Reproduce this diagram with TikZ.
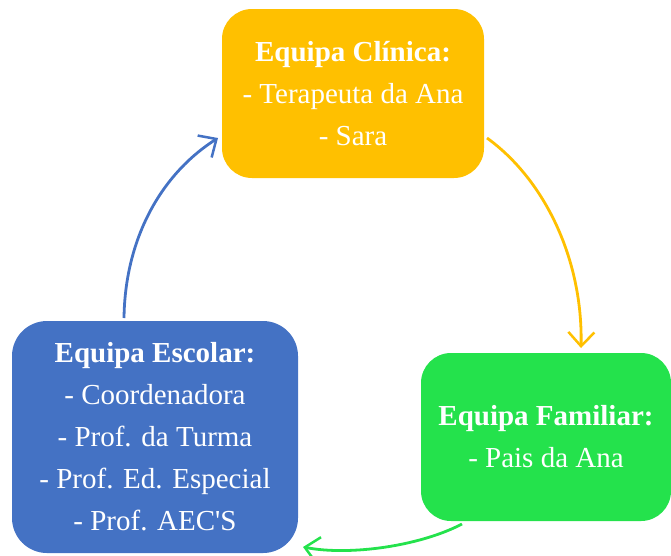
\documentclass[tikz,border=0pt]{standalone}
\usepackage{fontspec}
\setmainfont{Liberation Serif}
\usetikzlibrary{arrows.meta}
\definecolor{clinyellow}{HTML}{FFC000}
\definecolor{schoolblue}{HTML}{4472C4}
\definecolor{famgreen}{HTML}{24E24C}
\begin{document}
\begin{tikzpicture}[
    x=1pt, y=-1pt,
    team/.style={rectangle, rounded corners=30pt, align=center,
                 text=white, inner sep=0pt,
                 font=\fontsize{29}{42}\selectfont},
    arr/.style={-{Straight Barb[length=14pt, width=26pt, line width=2.5pt]},
                line width=2.8pt},
  ]
  \useasboundingbox (0,0) rectangle (671,555);

  % ===== Teams =====
  \node[team, fill=clinyellow, minimum width=262pt, minimum height=169pt] (clin) at (353, 93.5) {%
    \textbf{Equipa Clínica:}\\
    - Terapeuta da Ana\\
    - Sara};

  \node[team, fill=famgreen, minimum width=250pt, minimum height=168pt] (fam) at (546, 437) {%
    \textbf{Equipa Familiar:}\\
    - Pais da Ana};

  \node[team, fill=schoolblue, rounded corners=35pt, minimum width=286pt, minimum height=232pt] (esc) at (155, 437) {%
    \textbf{Equipa Escolar:}\\
    - Coordenadora\\
    - Prof. da Turma\\
    - Prof. Ed. Especial\\
    - Prof. AEC\textquotesingle S};

  % ===== Cycle arrows =====
  \coordinate (clinin) at (218, 138);
  \coordinate (clinout) at (487, 138);
  \coordinate (famin) at (581, 348);
  \coordinate (famout) at (462, 524);
  \coordinate (escin) at (303, 547);
  \coordinate (escout) at (124, 318);

  \draw[arr, clinyellow] (clinout) .. controls (545, 180) and (583, 260) .. (famin);
  \draw[arr, famgreen] (famout) .. controls (420, 546) and (350, 556) .. (escin);
  \draw[arr, schoolblue] (escout) .. controls (125, 240) and (160, 175) .. (clinin);

\end{tikzpicture}
\end{document}
